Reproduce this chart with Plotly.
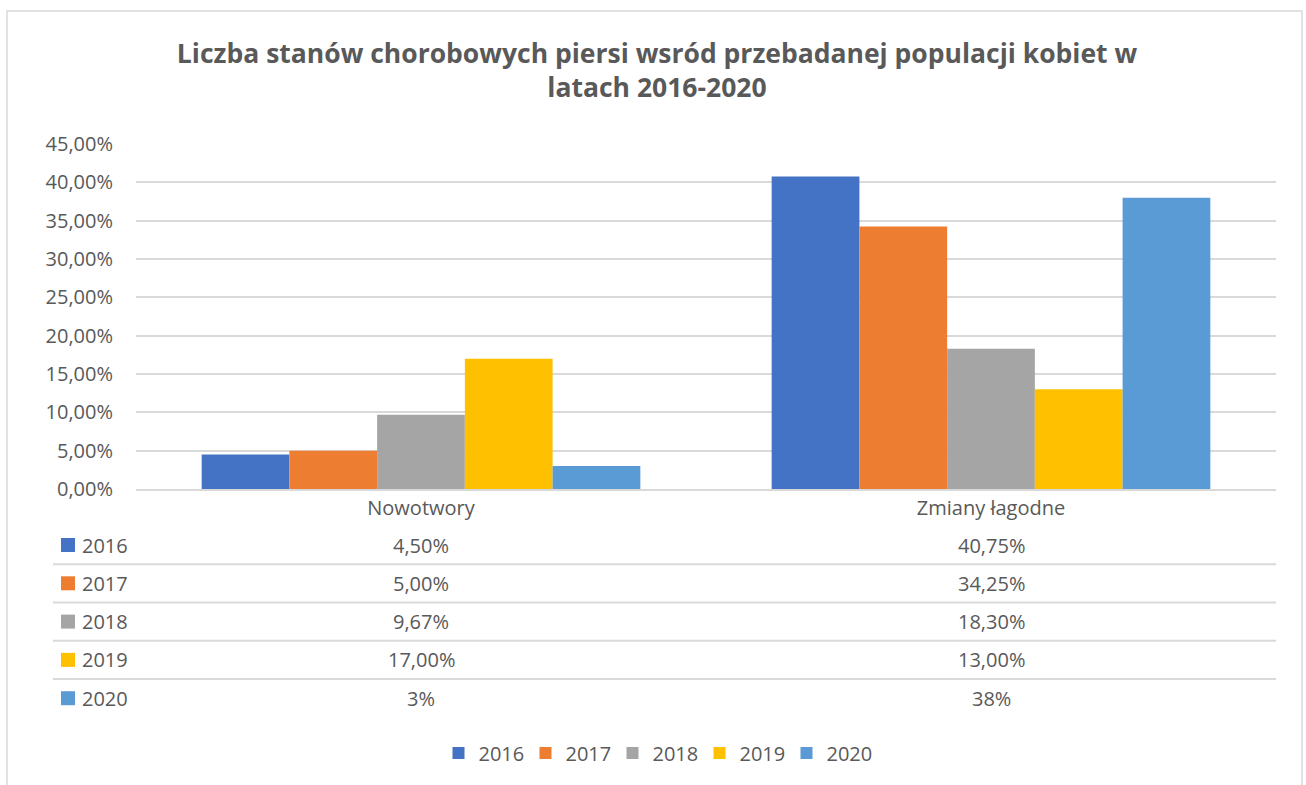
import plotly.graph_objects as go

# ---- data ----
categories = ["Nowotwory", "Zmiany łagodne"]
years = ["2016", "2017", "2018", "2019", "2020"]
values_2016 = [0.045, 0.4075]
values_2017 = [0.05, 0.3425]
values_2018 = [0.0967, 0.183]
values_2019 = [0.17, 0.13]
values_2020 = [0.03, 0.38]
series_values = [values_2016, values_2017, values_2018, values_2019, values_2020]
label_decimals = [2, 2, 2, 2, 0]
y_tick_values = [0, 0.05, 0.10, 0.15, 0.20, 0.25, 0.30, 0.35, 0.40, 0.45]
title_text = "Liczba stanów chorobowych piersi wsród przebadanej populacji kobiet w<br>latach 2016-2020"

# ---- style ----
colors = ["#4472C4", "#ED7D31", "#A5A5A5", "#FFC000", "#5B9BD5"]
W, H = 1306, 785
FONT = "Open Sans"
TXT = "#595959"
GRID = "#D9D9D9"


def xp(x):
    return x / W


def yp(y):
    return 1 - y / H


def fmt(v, d):
    return f"{v * 100:.{d}f}%".replace(".", ",")


fig = go.Figure()
for name, vals, col in zip(years, series_values, colors):
    fig.add_trace(go.Bar(name=name, x=categories, y=vals, marker=dict(color=col, line=dict(width=0))))

shapes = []
annotations = []

# chart border
shapes.append(dict(type="rect", xref="paper", yref="paper", x0=xp(7), x1=xp(1302),
                   y0=-0.1, y1=yp(11), line=dict(color=GRID, width=1.5), fillcolor="rgba(0,0,0,0)", layer="below"))

# data table
row0 = 545
row_step = 38.3
for i, (name, vals, col, d) in enumerate(zip(years, series_values, colors, label_decimals)):
    yc = row0 + i * row_step
    shapes.append(dict(type="rect", xref="paper", yref="paper",
                       x0=xp(61), x1=xp(75), y0=yp(yc + 7), y1=yp(yc - 7),
                       fillcolor=col, line=dict(width=0)))
    annotations.append(dict(xref="paper", yref="paper", x=xp(80), y=yp(yc), text=name,
                            showarrow=False, xanchor="left", yanchor="middle",
                            font=dict(family=FONT, size=20, color=TXT)))
    for cat, v in zip(categories, vals):
        annotations.append(dict(xref="x", yref="paper", x=cat, y=yp(yc), text=fmt(v, d),
                                showarrow=False, xanchor="center", yanchor="middle",
                                font=dict(family=FONT, size=20, color=TXT)))
    if i < len(years) - 1:
        yl = yc + row_step / 2
        shapes.append(dict(type="line", xref="paper", yref="paper", x0=xp(53), x1=xp(1276),
                           y0=yp(yl), y1=yp(yl), line=dict(color=GRID, width=2)))

fig.update_layout(
    width=W, height=H,
    margin=dict(l=0, r=0, t=0, b=0, autoexpand=False),
    paper_bgcolor="white", plot_bgcolor="white",
    separators=", ",
    barmode="group", bargap=0.2304, bargroupgap=0,
    title=dict(text=f"<b>{title_text}</b>", x=xp(657), xref="paper", xanchor="center",
               y=yp(63), yref="paper", yanchor="top",
               font=dict(family=FONT, size=26.5, color=TXT)),
    font=dict(family=FONT, size=20, color=TXT),
    xaxis=dict(domain=[xp(136), xp(1276)], showline=True, linecolor=GRID, linewidth=1.5,
               ticks="", showgrid=False, tickfont=dict(family=FONT, size=20, color=TXT),
               ticklabelstandoff=0, automargin=False),
    yaxis=dict(domain=[yp(489), yp(144)], range=[0, 0.45], tickvals=y_tick_values,
               tickformat=".2%", showgrid=True, gridcolor=GRID, gridwidth=1.5,
               zeroline=False, showline=False, ticks="", automargin=False,
               tickfont=dict(family=FONT, size=20, color=TXT), ticklabelstandoff=22),
    legend=dict(orientation="h", x=xp(656), xanchor="center", y=yp(753), yanchor="middle",
                font=dict(family=FONT, size=20, color=TXT), traceorder="normal",
                entrywidth=42, entrywidthmode="pixels",
                bgcolor="rgba(0,0,0,0)"),
    shapes=shapes,
    annotations=annotations,
    showlegend=True,
)

fig.write_html("out.html", config={"displayModeBar": False},
               post_script="document.body.style.margin='0';document.body.style.overflow='hidden';")
